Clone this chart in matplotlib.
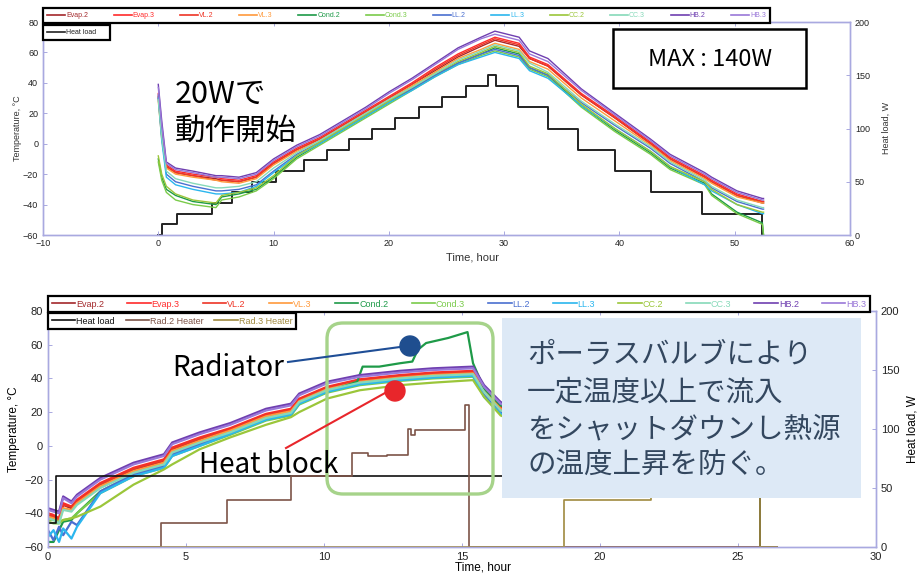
import matplotlib.pyplot as plt
from matplotlib.lines import Line2D
from matplotlib.patches import FancyBboxPatch, Rectangle, Circle
from matplotlib.transforms import IdentityTransform

plt.rcParams['font.family'] = ['Liberation Sans', 'DejaVu Sans']
JP = ['Noto Sans CJK JP', 'DejaVu Sans']

W, H = 921, 575

names = ['Evap.2', 'Evap.3', 'VL.2', 'VL.3', 'Cond.2', 'Cond.3',
         'LL.2', 'LL.3', 'CC.2', 'CC.3', 'HB.2', 'HB.3']
colors = ['#a3282b', '#ff2b2b', '#ee3526', '#ff9a3c', '#1e9a48', '#7acb4a',
          '#4a6fd0', '#2bb6ee', '#9bc63a', '#86d9b9', '#6f3fb0', '#9a78d8']

# ---- long run (upper plot), time in hours
top_t = [0, 0.3, 0.7, 1.5, 3, 5, 5.5, 7, 8.5, 10, 12, 14, 16, 18, 20, 22, 24, 26, 28,
         29.2, 31.3, 32.2, 33.8, 36.7, 39.6, 42.7, 44.4, 47.4, 48, 50.2, 52.4, 52.5]
top_evap2 = [30, 5, -15, -19, -21, -23, -24, -25, -22, -13, -4, 3, 12, 21, 30, 39, 48, 57, 64,
             68, 64, 56, 51, 32, 17, 0, -10, -22, -25, -34, -39, -39]
top_evap3 = [33, 8, -14, -18, -20, -22, -23, -24, -21, -12, -3, 4, 13, 22, 31, 40, 50, 59, 66,
             70, 66, 57, 52, 33, 18, 1, -9, -21, -24, -33, -38, -38]
top_vl2 = [31, 6, -15, -19, -21, -24, -24, -25, -22, -13, -4, 3, 12, 21, 30, 39, 49, 58, 65,
           69, 65, 56, 51, 32, 17, 0, -10, -22, -25, -34, -38, -38]
top_vl3 = [28, 3, -16, -20, -22, -24, -25, -26, -23, -14, -5, 2, 11, 20, 29, 38, 47, 56, 62,
           66, 62, 54, 49, 30, 15, -1, -11, -23, -26, -35, -39, -39]
top_cond2 = [-10, -22, -30, -34, -38, -40, -35, -33, -30, -22, -9, 0, 9, 18, 27, 36, 45, 53, 59,
             63, 59, 50, 45, 25, 9, -6, -16, -26, -33, -45, -52, -60]
top_cond3 = [-12, -24, -32, -37, -40, -42, -37, -35, -31, -23, -10, -1, 8, 17, 26, 35, 44, 52, 58,
             61, 57, 49, 44, 24, 8, -7, -17, -27, -34, -46, -53, -60]
top_ll2 = [32, 5, -20, -25, -28, -31, -31, -30, -27, -18, -7, 1, 10, 19, 28, 36, 45, 53, 59,
           62, 58, 50, 45, 27, 12, -3, -13, -25, -29, -38, -43, -43]
top_ll3 = [30, 2, -22, -27, -30, -33, -33, -32, -28, -19, -8, 0, 9, 18, 27, 35, 44, 52, 57,
           60, 56, 48, 43, 25, 10, -5, -15, -27, -31, -40, -46, -46]
top_cc2 = [-8, -20, -28, -33, -37, -39, -34, -32, -29, -21, -8, 1, 10, 19, 28, 37, 46, 54, 60,
           64, 60, 51, 46, 26, 10, -5, -15, -25, -30, -40, -45, -45]
top_cc3 = [29, 4, -18, -23, -26, -29, -29, -28, -25, -16, -6, 2, 11, 20, 29, 37, 46, 55, 61,
           65, 61, 53, 47, 28, 13, -2, -12, -24, -28, -37, -42, -42]
top_hb2 = [39, 15, -12, -16, -18, -21, -21, -22, -19, -10, -1, 6, 15, 24, 34, 43, 53, 63, 70,
           74, 70, 61, 56, 36, 20, 3, -7, -19, -22, -31, -36, -36]
top_hb3 = [37, 12, -13, -17, -19, -22, -22, -23, -20, -11, -2, 5, 14, 23, 33, 42, 52, 62, 69,
           72, 68, 59, 54, 35, 19, 2, -8, -20, -23, -32, -37, -37]

top_load_t = [0, 0.3, 1.6, 4.7, 6.4, 8.1, 10.2, 12.6, 14.6, 16.5, 18.5, 20.5, 22.6, 24.6,
              26.7, 28.6, 29.3, 31.2, 33.8, 36.4, 39.6, 42.7, 47.2, 52.4]
top_load_w = [0, 10, 20, 30, 40, 50, 60, 70, 80, 90, 100, 110, 120, 130,
              140, 150, 140, 120, 100, 80, 60, 40, 20, 0]

# ---- short run (lower plot)
bot_t = [0, 0.2, 0.4, 0.55, 0.85, 1.05, 1.9, 3.1, 4.2, 4.5, 5.5, 6.6, 7.9, 8.8, 9.1,
         10.1, 11.3, 12.75, 13.95, 15.4, 15.8, 16.4, 18, 20, 24]
bot_evap2 = [-41, -42, -44, -35, -37, -33, -23, -14, -9, -2, 4, 10, 18.5, 21.5, 27.5,
             34.5, 39, 41.5, 43, 44, 34, 23, 12, 5, -3]
bot_evap3 = [-40, -41, -43, -34, -36, -32, -22, -13, -8, -1, 5, 10.5, 19, 22, 28,
             35, 39.5, 42, 43.5, 44.5, 35, 24, 13, 6, -2]
bot_vl2 = [-40, -42, -43, -35, -36, -33, -22.5, -13.5, -8.5, -1.5, 4.5, 10, 18.5, 21.5, 27.5,
           34.5, 39, 41.5, 43, 44, 34, 23, 12, 5, -3]
bot_vl3 = [-42, -43, -45, -37, -38, -34, -24, -15, -10, -3, 3, 9, 17.5, 20.5, 26.5,
           33.5, 38, 40.5, 42, 43, 33, 22, 11, 4, -4]
bot_cond3 = [-45, -46, -46, -44, -43, -40, -28, -18, -13, -6, 0, 6.5, 15, 18, 24.5,
             31.5, 36, 38.5, 40, 41, 30, 19, 9, 2, -6]
bot_ll2 = [-50, -56, -48, -53, -45, -47, -27, -17, -12, -5, 1, 7.5, 16, 19, 25.5,
           32.5, 37, 39.5, 41, 42, 30, 20, 9, 2, -6]
bot_ll3 = [-54, -50, -57, -49, -55, -48, -28, -18, -13, -6, 0, 7, 15.5, 18.5, 25,
           32, 36.5, 39, 40.5, 41.5, 29, 19, 8, 1, -7]
bot_cc2 = [-44, -44, -45, -44, -43, -42, -36, -23, -14, -11, -2, 5, 12.5, 17, 20,
           28, 33, 36, 37.5, 39, 29, 18, 8, 1, -7]
bot_cc3 = [-43, -44, -46, -38, -39, -35, -25, -16, -11, -4, 2, 8, 16.5, 19.5, 26,
           33, 37.5, 40, 41.5, 42.5, 32, 21, 10, 3, -5]
bot_hb2 = [-37, -38, -39, -30, -33, -29, -19, -10, -5, 2, 8, 13.5, 22, 25, 31,
           38, 42, 44.5, 46, 47, 36, 26, 15, 8, 0]
bot_hb3 = [-38, -39, -40, -31, -34, -30, -20, -11, -6, 1, 7, 12.5, 21, 24, 30,
           37, 41, 43.5, 45, 46, 35, 25, 14, 7, -1]
# Cond.2 overheats inside the radiator, so it has its own time base
bot_cond2_t = [0, 0.2, 0.4, 0.55, 0.85, 1.05, 1.9, 3.1, 4.2, 4.5, 5.5, 6.6, 7.9, 8.8, 9.1,
               10.1, 11.2, 11.4, 12.0, 12.75, 13.2, 13.4, 13.7, 14.5, 15.2, 15.4, 15.8,
               16.4, 18, 20, 24]
bot_cond2 = [-57, -57, -50, -45, -44, -40, -27, -17, -12, -5, 1, 7, 15.5, 18.5, 25,
             32, 38, 47, 47, 49, 50, 57, 61, 64, 67.5, 49, 34, 24, 14, 5, -4]

bot_load_t = [0, 0.3, 25.8, 26.4]
bot_load_w = [20, 60, 0, 0]
rad2_t = [0, 4.1, 6.5, 8.8, 11.0, 11.6, 12.3, 13.05, 13.15, 13.3, 15.1, 15.25, 26.4]
rad2_w = [0, 20, 40, 60, 80, 77, 78, 100, 95, 99, 120, 0, 0]
rad3_t = [0, 18.7, 21.85, 25.8, 26.4]
rad3_w = [0, 40, 43, 0, 0]

top_series = [top_evap2, top_evap3, top_vl2, top_vl3, top_cond2, top_cond3,
              top_ll2, top_ll3, top_cc2, top_cc3, top_hb2, top_hb3]
bot_series = [(bot_t, bot_evap2), (bot_t, bot_evap3), (bot_t, bot_vl2), (bot_t, bot_vl3),
              (bot_cond2_t, bot_cond2), (bot_t, bot_cond3), (bot_t, bot_ll2), (bot_t, bot_ll3),
              (bot_t, bot_cc2), (bot_t, bot_cc3), (bot_t, bot_hb2), (bot_t, bot_hb3)]


def fx(x):
    return x / W


def fy(y):
    return 1 - y / H


def style_axes(a, spine_col, size):
    for s in a.spines.values():
        s.set_color(spine_col)
        s.set_linewidth(1.0)
    a.tick_params(direction='in', length=3, width=0.7, color=spine_col,
                  labelsize=size, labelcolor='#222222')


fig = plt.figure(figsize=(W / 100, H / 100), dpi=100)
lav = '#a9a9e0'

# ================= upper plot =================
ax1 = fig.add_axes([fx(43), fy(235), (850 - 43) / W, (235 - 22) / H])
ax1r = ax1.twinx()
ax1.set_zorder(ax1r.get_zorder() + 1)
ax1.patch.set_visible(False)

ax1r.plot(top_load_t, top_load_w, drawstyle='steps-post', color='#222222', lw=1.4)
for vals, c in zip(top_series, colors):
    ax1.plot(top_t, vals, color=c, lw=1.0)

ax1.set_xlim(-10, 60)
ax1.set_ylim(-60, 80)
ax1r.set_ylim(0, 200)
ax1.set_xticks(range(-10, 61, 10))
ax1.set_yticks(range(-60, 81, 20))
ax1r.set_yticks(range(0, 201, 50))
style_axes(ax1, lav, 6.5)
style_axes(ax1r, lav, 6.5)
ax1.tick_params(top=True)
ax1.tick_params(axis='x', pad=3)
fig.text(fx(18), fy(128), 'Temperature, °C', rotation=90, ha='center', va='center',
         fontsize=6.5, color='#333333')
fig.text(fx(886), fy(128), 'Heat load, W', rotation=90, ha='center', va='center',
         fontsize=6.5, color='#333333')
fig.text(fx(472), fy(258), 'Time, hour', ha='center', va='center', fontsize=8, color='#333333')

# ================= lower plot =================
ax2 = fig.add_axes([fx(48), fy(547), (876 - 48) / W, (547 - 311) / H])
ax2r = ax2.twinx()

for (tt, vals), c in zip(bot_series, colors):
    ax2.plot(tt, vals, color=c, lw=1.6)
ax2r.plot(bot_load_t, bot_load_w, drawstyle='steps-post', color='#111111', lw=1.2)
ax2r.plot(rad2_t, rad2_w, drawstyle='steps-post', color='#7d5448', lw=1.2)
ax2r.plot(rad3_t, rad3_w, drawstyle='steps-post', color='#a08a40', lw=1.2)

ax2.set_xlim(0, 30)
ax2.set_ylim(-60, 80)
ax2r.set_ylim(0, 200)
ax2.set_xticks(range(0, 31, 5))
ax2.set_yticks(range(-60, 81, 20))
ax2r.set_yticks(range(0, 201, 50))
style_axes(ax2, lav, 8)
style_axes(ax2r, lav, 8)
ax2.tick_params(top=True)
fig.text(fx(14), fy(429), 'Temperature, °C', rotation=90, ha='center', va='center', fontsize=8.5)
fig.text(fx(912), fy(429), 'Heat load, W', rotation=90, ha='center', va='center', fontsize=8.5)
fig.text(fx(483), fy(568), 'Time, hour', ha='center', va='center', fontsize=8.5)


# ================= legends =================
def legend_row(labels, cols, x0, x1, ytop, size, pad):
    handles = [Line2D([], [], color=c, lw=1.2) for c in cols]
    leg = fig.legend(handles, labels, loc='upper left', ncol=len(labels), mode='expand',
                     bbox_to_anchor=(fx(x0), fy(ytop) - 0.1, (x1 - x0) / W, 0.1),
                     bbox_transform=fig.transFigure, borderaxespad=0, fontsize=size,
                     handlelength=2.6, handletextpad=0.1, columnspacing=0.6,
                     borderpad=pad, fancybox=False, framealpha=1, edgecolor='black')
    leg.get_frame().set_linewidth(1.6)
    for txt, c in zip(leg.get_texts(), cols):
        txt.set_color(c)
    return leg


legend_row(names, colors, 43, 770, 8, 5, 0.6)
legend_row(['Heat load'], ['#222222'], 43, 110, 25, 5, 0.6)
legend_row(names, colors, 48, 870, 296, 6.5, 0.4)
legend_row(['Heat load', 'Rad.2 Heater', 'Rad.3 Heater'],
           ['#111111', '#7d5448', '#a08a40'], 48, 296, 313, 6.5, 0.4)

# ================= callouts =================
px = IdentityTransform()

fig.patches.append(Rectangle((613, H - 88), 193, 59, transform=px, facecolor='white',
                             edgecolor='black', lw=1.8, zorder=3))
fig.text(fx(710), fy(59), 'MAX : 140W', ha='center', va='center', fontsize=17,
         family=JP, zorder=4)
fig.text(fx(175), fy(94), '20Wで', ha='left', va='center', fontsize=22, family=JP)
fig.text(fx(175), fy(131), '動作開始', ha='left', va='center', fontsize=22, family=JP)

fig.patches.append(FancyBboxPatch((327, H - 494), 166, 171,
                                  boxstyle='round,pad=0,rounding_size=16', transform=px,
                                  facecolor='none', edgecolor='#a6d38a', lw=2.4, zorder=3))
fig.patches.append(Rectangle((502, H - 498), 359, 180, transform=px,
                             facecolor='#dde9f6', edgecolor='none', zorder=3))
note = ['ポーラスバルブにより', '一定温度以上で流入', 'をシャットダウンし熱源', 'の温度上昇を防ぐ。']
for i, line in enumerate(note):
    fig.text(fx(527), fy(355 + 37 * i), line, ha='left', va='center', fontsize=20.5,
             family=JP, color='#33475f', zorder=4)

fig.lines.append(Line2D([400, 288], [H - 347, H - 362], transform=px, color='#1f4e96',
                        lw=1.5, zorder=4))
fig.lines.append(Line2D([385, 286], [H - 393, H - 448], transform=px, color='#e8262b',
                        lw=1.5, zorder=4))
fig.patches.append(Circle((410, H - 346), 10, transform=px, color='#1f4e8f', zorder=5))
fig.patches.append(Circle((395, H - 391), 10, transform=px, color='#e8262b', zorder=5))
fig.text(fx(172), fy(368), 'Radiator', ha='left', va='center', fontsize=20, family=JP)
fig.text(fx(199), fy(465), 'Heat block', ha='left', va='center', fontsize=20, family=JP)

fig.savefig('out.png', dpi=100)
